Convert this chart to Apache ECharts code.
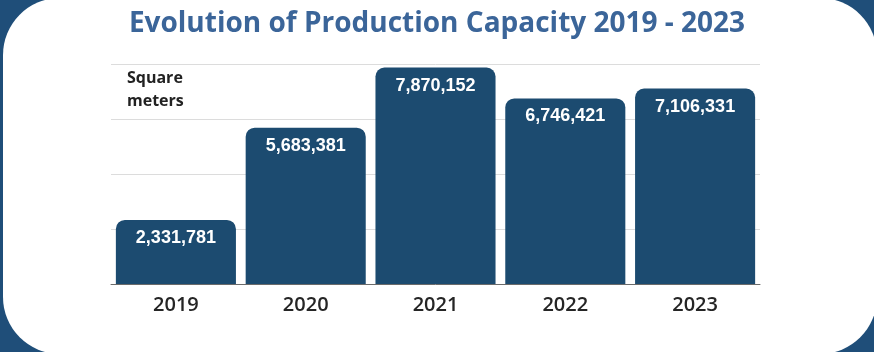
<!DOCTYPE html>
<html>
<head>
<meta charset="utf-8">
<script src="https://cdn.jsdelivr.net/npm/echarts@6/dist/echarts.min.js"></script>
<style>
html,body{margin:0;padding:0;background:#1F4E79;}
#c{width:874px;height:352px;}
</style>
</head>
<body>
<div id="c"></div>
<script>
var categories = ['2019', '2020', '2021', '2022', '2023'];
var capacity = [2331781, 5683381, 7870152, 6746421, 7106331];
var titleText = 'Evolution of Production Capacity 2019 - 2023';
var unitText = 'Square\nmeters';

var chart = echarts.init(document.getElementById('c'), null, {renderer: 'canvas'});
chart.setOption({
  backgroundColor: '#1F4E79',
  animation: false,
  graphic: [
    {type: 'rect', z: -10, shape: {x: 3, y: -2, width: 874, height: 356, r: 57}, style: {fill: '#ffffff'}},
    {type: 'text', left: 127, top: 67, z: 10, style: {text: unitText, font: 'bold 16px "Open Sans", sans-serif', fill: '#222222', lineHeight: 23}}
  ],
  title: {
    text: titleText, left: 'center', top: 5,
    textStyle: {fontFamily: '"Open Sans", sans-serif', fontWeight: 'bold', fontSize: 28, color: '#3B6599'}
  },
  grid: {left: 111, right: 114, top: 64, bottom: 68},
  xAxis: {
    type: 'category', data: categories,
    axisLine: {lineStyle: {color: '#6b6b6b', width: 1}},
    axisTick: {show: false},
    axisLabel: {fontFamily: '"Open Sans", sans-serif', fontWeight: 600, fontSize: 20, color: '#252525', margin: 11}
  },
  yAxis: {
    type: 'value', min: 0, max: 8000000, interval: 2000000,
    axisLabel: {show: false}, axisLine: {show: false}, axisTick: {show: false},
    splitLine: {lineStyle: {color: '#dcdcdc', width: 1}}
  },
  series: [{
    type: 'bar', data: capacity, barCategoryGap: '7.5%',
    itemStyle: {color: '#1C4B70', borderRadius: [9, 9, 0, 0]},
    label: {
      show: true, position: 'insideTop', distance: 9,
      formatter: function (p) { return p.value.toLocaleString('en-US'); },
      fontFamily: '"Liberation Sans", Arial, sans-serif', fontWeight: 'bold', fontSize: 18, color: '#ffffff'
    }
  }]
});
</script>
</body>
</html>
